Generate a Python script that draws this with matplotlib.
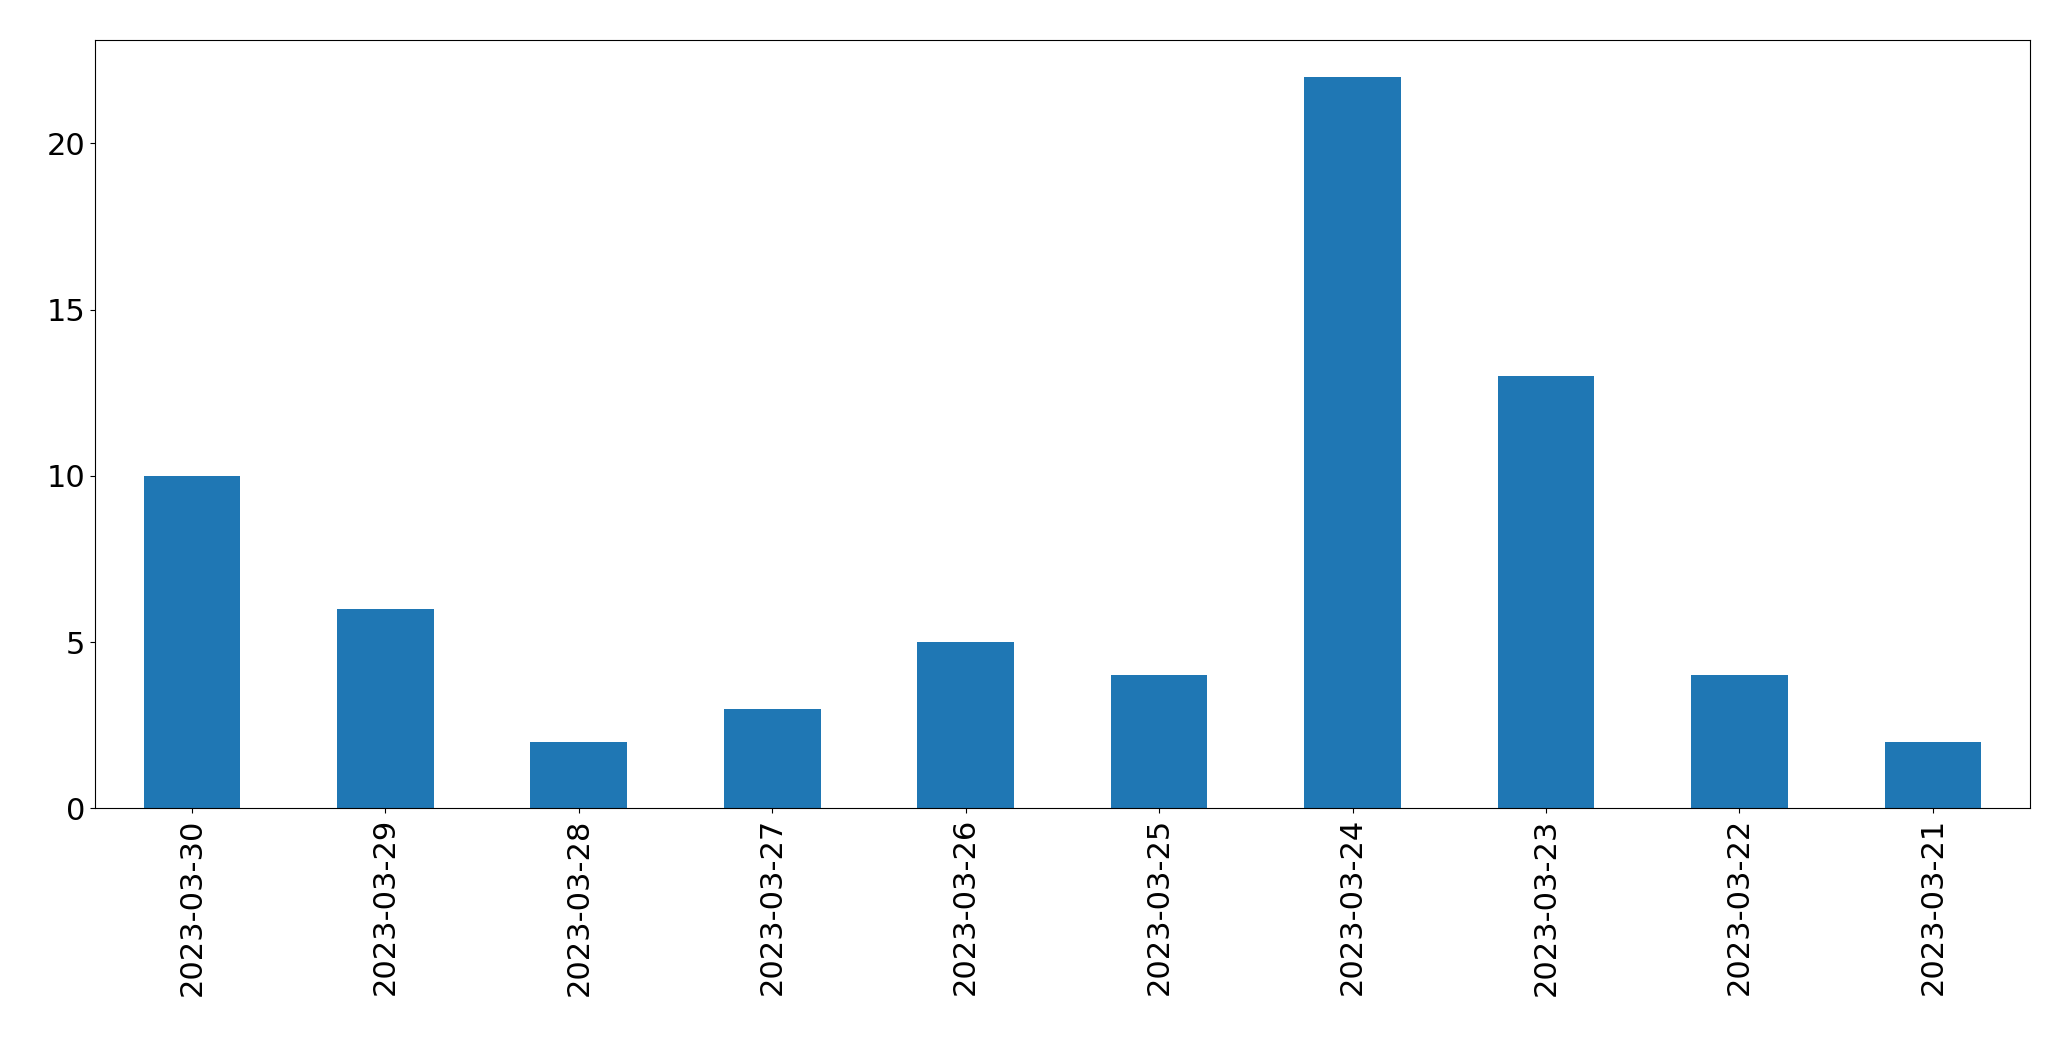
import matplotlib
matplotlib.use("Agg")
import matplotlib.pyplot as plt
import numpy as np

dates = ['2023-03-30', '2023-03-29', '2023-03-28', '2023-03-27', '2023-03-26',
         '2023-03-25', '2023-03-24', '2023-03-23', '2023-03-22', '2023-03-21']
counts = [10, 6, 2, 3, 5, 4, 22, 13, 4, 2]

fig = plt.figure(figsize=(20.71, 10.61), dpi=100)
ax = fig.add_axes([0.046, 0.238, 0.934, 0.724])

x = np.arange(len(dates))
ax.bar(x, counts, width=0.5, color='#1f77b4')
ax.set_xlim(-0.5, len(dates) - 0.5)
ax.set_xticks(x)
ax.set_xticklabels(dates, rotation=90)
ax.set_yticks([0, 5, 10, 15, 20])
ax.tick_params(labelsize=22)

fig.savefig('out.png', dpi=100)
